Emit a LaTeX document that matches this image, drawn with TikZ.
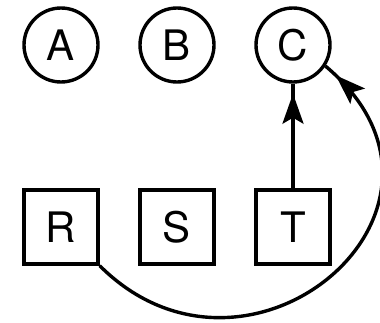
\documentclass[tikz,border=0pt]{standalone}
\usepackage{fontspec}
\setmainfont{TeX Gyre Heros}
\usetikzlibrary{arrows.meta,decorations.markings}

\begin{document}
\begin{tikzpicture}[line width=3.4pt,node distance=116pt,
                    state node/.style={circle,draw,minimum size=74pt,inner sep=0pt,font=\fontsize{42}{44}\selectfont},
                    box node/.style={rectangle,draw,minimum size=74pt,inner sep=0pt,font=\fontsize{42}{44}\selectfont},
                    head/.style={postaction={decorate},decoration={markings,
                      mark=at position #1 with {\arrow{Stealth[length=30pt,width=21pt,inset=6pt]}}}}]
  \useasboundingbox (0,0) rectangle (380pt,322pt);

  \node[state node] (A) at (61pt,277pt) {A};
  \node[state node] (B) [right of=A] {B};
  \node[state node] (C) [right of=B] {C};
  \node[box node] (R) [below of=A,node distance=182pt] {R};
  \node[box node] (S) [right of=R] {S};
  \node[box node] (T) [right of=S] {T};

  \draw[head=-10pt] (T) -- (C);
  \draw[head=-14pt] (R.south east) .. controls +(-45:212pt) and +(-40:220pt) .. (C.-33);
\end{tikzpicture}
\end{document}
